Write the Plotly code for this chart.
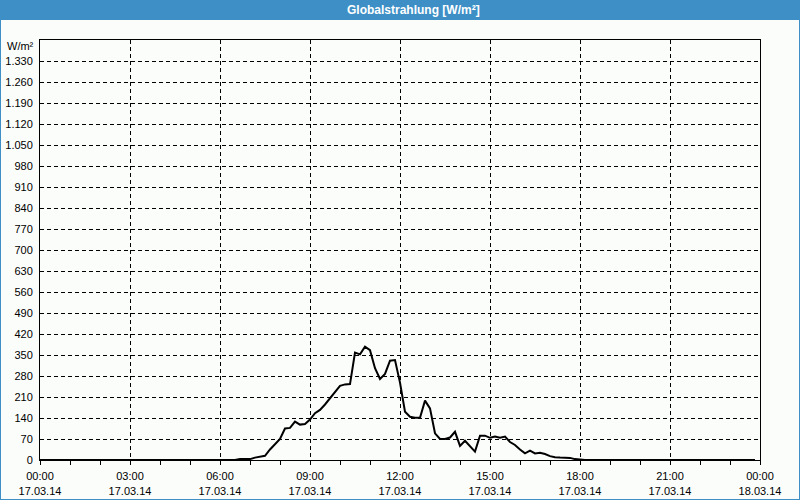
import plotly.graph_objects as go

# ---------------- data ----------------
day = "2014-03-17"
times = ["00:00", "06:30", "06:40", "07:00", "07:10", "07:20", "07:30", "07:40", "07:50",
         "08:00", "08:10", "08:20", "08:30", "08:40", "08:50",
         "09:00", "09:10", "09:20", "09:30", "09:40", "09:50",
         "10:00", "10:10", "10:20", "10:30", "10:40", "10:50",
         "11:00", "11:10", "11:20", "11:30", "11:40", "11:50",
         "12:00", "12:10", "12:20", "12:30", "12:40", "12:50",
         "13:00", "13:10", "13:20", "13:30", "13:40", "13:50",
         "14:00", "14:10", "14:20", "14:30", "14:40", "14:50",
         "15:00", "15:10", "15:20", "15:30", "15:40", "15:50",
         "16:00", "16:10", "16:20", "16:30", "16:40", "16:50",
         "17:00", "17:10", "17:20", "17:30", "17:40", "17:50",
         "18:00", "18:10", "23:50"]
values = [0, 0, 3, 3, 8, 10, 14, 35, 52,
          70, 105, 107, 128, 118, 120,
          135, 156, 167, 185, 206, 228,
          247, 252, 253, 358, 352, 378,
          366, 306, 270, 287, 331, 333,
          258, 161, 144, 141, 141, 198,
          172, 89, 70, 70, 75, 94,
          47, 64, 45, 28, 81, 81,
          74, 78, 74, 78, 60, 50,
          35, 22, 31, 22, 24, 20,
          13, 9, 8, 8, 7, 3,
          1, 0, 0]

y_tick_values = [0, 70, 140, 210, 280, 350, 420, 490, 560, 630, 700, 770, 840,
                 910, 980, 1050, 1120, 1190, 1260, 1330]
y_tick_labels = ["0", "70", "140", "210", "280", "350", "420", "490", "560", "630",
                 "700", "770", "840", "910", "980", "1.050", "1.120", "1.190",
                 "1.260", "1.330"]
x_tick_values = ["2014-03-17 00:00", "2014-03-17 03:00", "2014-03-17 06:00",
                 "2014-03-17 09:00", "2014-03-17 12:00", "2014-03-17 15:00",
                 "2014-03-17 18:00", "2014-03-17 21:00", "2014-03-18 00:00"]
x_tick_labels = ["00:00<br>17.03.14", "03:00<br>17.03.14", "06:00<br>17.03.14",
                 "09:00<br>17.03.14", "12:00<br>17.03.14", "15:00<br>17.03.14",
                 "18:00<br>17.03.14", "21:00<br>17.03.14", "00:00<br>18.03.14"]

title_text = "Globalstrahlung [W/m²]"
unit_text = "W/m²"

# ---------------- layout helpers ----------------
W, H = 800, 500
L, R, T, B = 40, 40, 40, 40
PW, PH = W - L - R, H - T - B


def px(xpix):
    return (xpix - L) / PW


def py(ypix):
    return (H - B - ypix) / PH


BLUE = "#3d8fc6"
BG = "#fbfdfb"
FONT = "Liberation Sans"

fig = go.Figure()
fig.add_trace(go.Scatter(
    x=[f"{day} {t}" for t in times], y=values, mode="lines",
    line=dict(color="black", width=2), hoverinfo="skip", showlegend=False))

fig.update_layout(
    width=W, height=H,
    margin=dict(l=L, r=R, t=T, b=B, pad=0, autoexpand=False),
    paper_bgcolor=BG, plot_bgcolor=BG,
    font=dict(family=FONT, size=11, color="black"),
    showlegend=False,
    xaxis=dict(
        type="date", range=["2014-03-17 00:00", "2014-03-18 00:00"],
        tickmode="array", tickvals=x_tick_values, ticktext=x_tick_labels,
        ticks="outside", ticklen=4, tickcolor="black", tickwidth=1,
        minor=dict(dtick=3600000, tick0="2014-03-17 00:00", ticks="outside",
                   ticklen=4, tickcolor="black", showgrid=False),
        showgrid=True, gridcolor="black", gridwidth=1, griddash="4px,3px",
        showline=True, linecolor="black", linewidth=1, mirror=True,
        zeroline=False, tickfont=dict(family=FONT, size=11),
        ticklabelstandoff=2, automargin=False,
    ),
    yaxis=dict(
        range=[0, 1400], tickmode="array", tickvals=y_tick_values,
        ticktext=y_tick_labels, ticks="",
        showgrid=True, gridcolor="black", gridwidth=1, griddash="4px,3px",
        showline=True, linecolor="black", linewidth=1, mirror=True,
        zeroline=False, tickfont=dict(family=FONT, size=11),
        ticklabelstandoff=4, automargin=False,
    ),
    shapes=[
        dict(type="rect", xref="paper", yref="paper", layer="below",
             x0=px(0), x1=px(W), y0=py(20), y1=py(0),
             fillcolor=BLUE, line=dict(width=0)),
        dict(type="rect", xref="paper", yref="paper", layer="above",
             x0=px(0), x1=px(W), y0=py(H), y1=py(0),
             fillcolor="rgba(0,0,0,0)", line=dict(color=BLUE, width=2)),
    ],
    annotations=[
        dict(text=f"<b>{title_text}</b>", xref="paper", yref="paper",
             x=px(413), y=py(10), xanchor="center", yanchor="middle",
             showarrow=False, font=dict(family=FONT, size=12, color="white")),
        dict(text=unit_text, xref="paper", yref="paper",
             x=px(36), y=py(46), xanchor="right", yanchor="middle",
             showarrow=False, font=dict(family=FONT, size=11, color="black")),
    ],
)

fig.write_html("out.html",
               config={"displayModeBar": False, "staticPlot": True},
               post_script="document.body.style.margin='0';document.body.style.overflow='hidden';")
